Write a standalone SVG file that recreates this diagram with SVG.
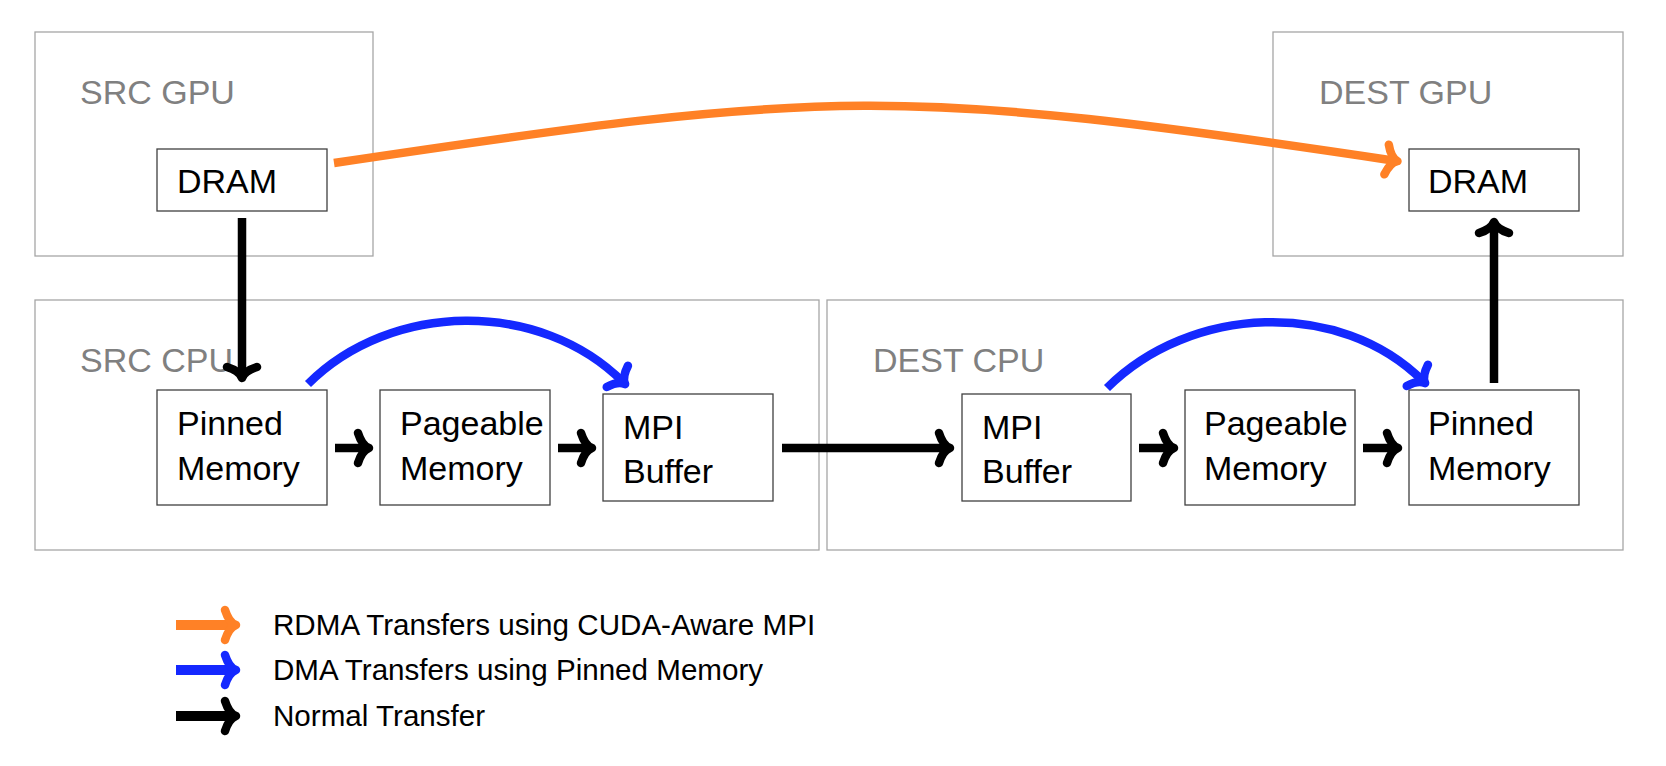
<svg xmlns="http://www.w3.org/2000/svg" width="1666" height="766" viewBox="0 0 1666 766">
<style>
.bg{fill:#ffffff}
.group{fill:none;stroke:#a6a6a6;stroke-width:1.3}
.box{fill:#ffffff;stroke:#404040;stroke-width:1.3}
.title{font-family:"Liberation Sans",Arial,sans-serif;font-size:34px;fill:#808080}
.lbl{font-family:"Liberation Sans",Arial,sans-serif;font-size:34px;fill:#000000}
.leg{font-family:"Liberation Sans",Arial,sans-serif;font-size:29.6px;fill:#000000}
.k{fill:none;stroke:#000000;stroke-width:8.5;marker-end:url(#ah-k)}
.o{fill:none;stroke:#ff8126;stroke-width:8.5;marker-end:url(#ah-o)}
.b{fill:none;stroke:#1428ff;stroke-width:8.5;marker-end:url(#ah-b)}
.lk{stroke-width:10}
</style>
<defs>
<marker id="ah-k" markerUnits="userSpaceOnUse" orient="auto" overflow="visible" markerWidth="1" markerHeight="1" refX="0" refY="0">
<path d="M -8,-15 Q -4,-2.5 3,0 Q -4,2.5 -8,15" fill="none" stroke="#000000" stroke-width="8.5" stroke-linecap="round" stroke-linejoin="round"/>
</marker>
<marker id="ah-o" markerUnits="userSpaceOnUse" orient="auto" overflow="visible" markerWidth="1" markerHeight="1" refX="0" refY="0">
<path d="M -8,-15 Q -4,-2.5 3,0 Q -4,2.5 -8,15" fill="none" stroke="#ff8126" stroke-width="8.5" stroke-linecap="round" stroke-linejoin="round"/>
</marker>
<marker id="ah-b" markerUnits="userSpaceOnUse" orient="auto" overflow="visible" markerWidth="1" markerHeight="1" refX="0" refY="0">
<path d="M -8,-15 Q -4,-2.5 3,0 Q -4,2.5 -8,15" fill="none" stroke="#1428ff" stroke-width="8.5" stroke-linecap="round" stroke-linejoin="round"/>
</marker>
</defs>
<rect class="bg" x="0" y="0" width="1666" height="766"/>

<g id="src-gpu">
<rect class="group" x="35" y="32" width="338" height="224"/>
<text class="title" x="80" y="104">SRC GPU</text>
</g>
<g id="dest-gpu">
<rect class="group" x="1273" y="32" width="350" height="224"/>
<text class="title" x="1319" y="104">DEST GPU</text>
</g>
<g id="src-cpu">
<rect class="group" x="35" y="300" width="784" height="250"/>
<text class="title" x="80" y="372">SRC CPU</text>
</g>
<g id="dest-cpu">
<rect class="group" x="827" y="300" width="796" height="250"/>
<text class="title" x="873" y="372">DEST CPU</text>
</g>

<g id="src-dram">
<rect class="box" x="157" y="149" width="170" height="62"/>
<text class="lbl" x="177" y="193">DRAM</text>
</g>
<g id="dest-dram">
<rect class="box" x="1409" y="149" width="170" height="62"/>
<text class="lbl" x="1428" y="193">DRAM</text>
</g>
<g id="src-pinned">
<rect class="box" x="157" y="390" width="170" height="115"/>
<text class="lbl" x="177" y="435">Pinned</text>
<text class="lbl" x="177" y="480">Memory</text>
</g>
<g id="src-pageable">
<rect class="box" x="380" y="390" width="170" height="115"/>
<text class="lbl" x="400" y="435">Pageable</text>
<text class="lbl" x="400" y="480">Memory</text>
</g>
<g id="src-mpi">
<rect class="box" x="603" y="394" width="170" height="107"/>
<text class="lbl" x="623" y="439">MPI</text>
<text class="lbl" x="623" y="483">Buffer</text>
</g>
<g id="dest-mpi">
<rect class="box" x="962" y="394" width="169" height="107"/>
<text class="lbl" x="982" y="439">MPI</text>
<text class="lbl" x="982" y="483">Buffer</text>
</g>
<g id="dest-pageable">
<rect class="box" x="1185" y="390" width="170" height="115"/>
<text class="lbl" x="1204" y="435">Pageable</text>
<text class="lbl" x="1204" y="480">Memory</text>
</g>
<g id="dest-pinned">
<rect class="box" x="1409" y="390" width="170" height="115"/>
<text class="lbl" x="1428" y="435">Pinned</text>
<text class="lbl" x="1428" y="480">Memory</text>
</g>

<g id="connectors">
<path class="o" d="M 334,163 C 833,88.3 895.5,86 1394.5,160.7"/>
<path class="k" d="M 242,218 L 242,375"/>
<path class="k" d="M 1494,383 L 1494,225"/>
<path class="b" d="M 308,384 C 391,301 540,299 623,382"/>
<path class="b" d="M 1107,388 C 1190,305 1340,298 1423,381"/>
<path class="k" d="M 335,448 L 366,448"/>
<path class="k" d="M 558,448 L 589,448"/>
<path class="k" d="M 782,448 L 947,448"/>
<path class="k" d="M 1139,448 L 1171,448"/>
<path class="k" d="M 1363,448 L 1395,448"/>
</g>

<g id="legend">
<path class="o lk" d="M 176,625 L 233,625"/>
<text class="leg" x="273" y="635">RDMA Transfers using CUDA-Aware MPI</text>
<path class="b lk" d="M 176,670 L 233,670"/>
<text class="leg" x="273" y="680">DMA Transfers using Pinned Memory</text>
<path class="k lk" d="M 176,716 L 233,716"/>
<text class="leg" x="273" y="726">Normal Transfer</text>
</g>
</svg>
